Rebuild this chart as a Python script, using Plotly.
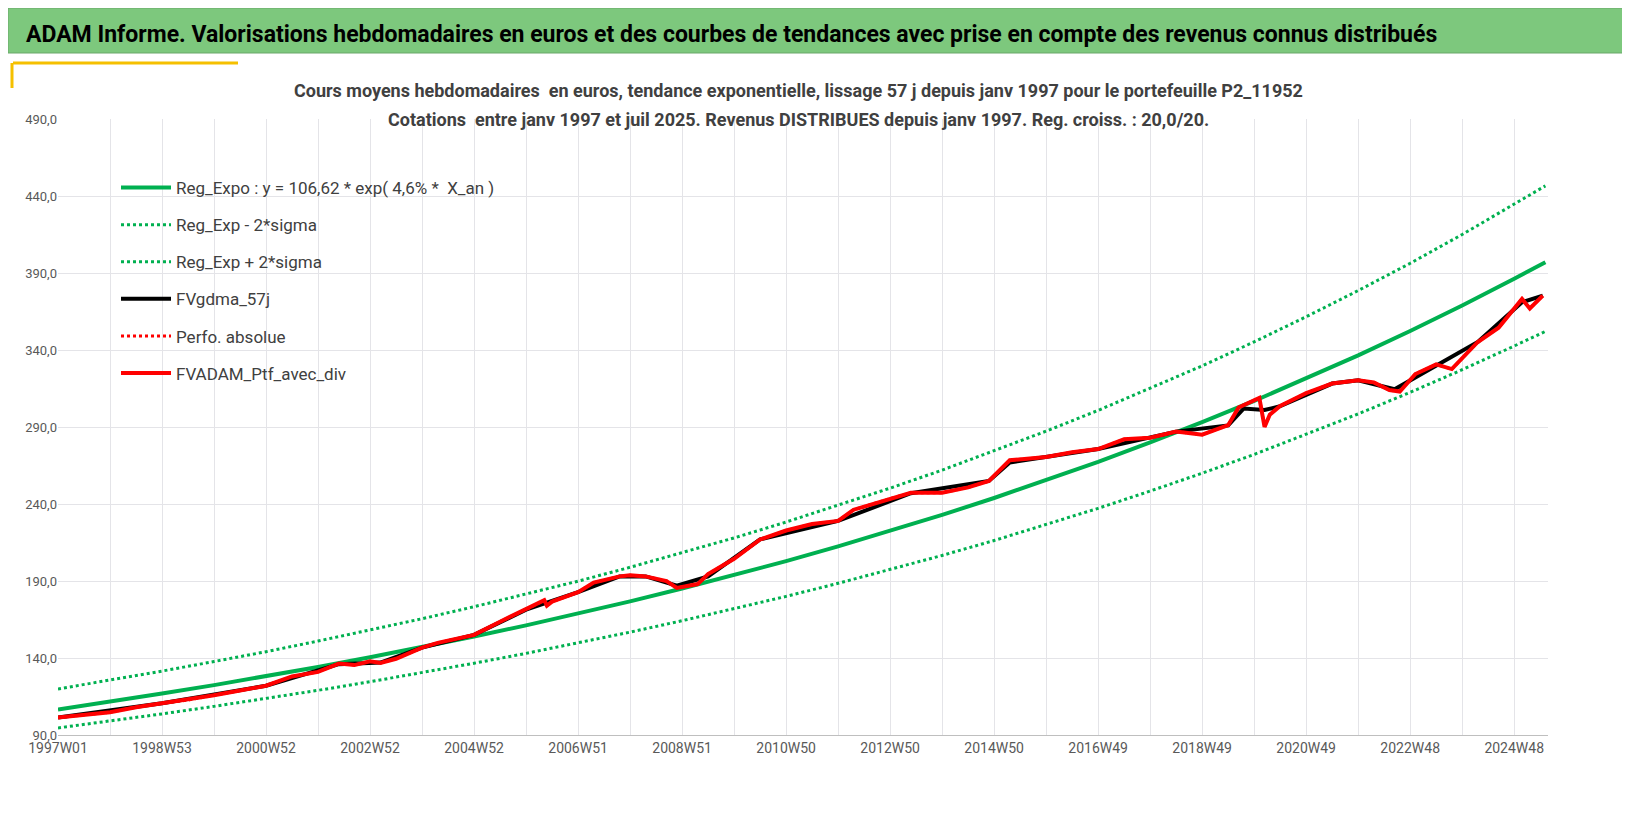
import plotly.graph_objects as go

# trend curves
trend_years = [1997 + i for i in range(29)] + [2025.6]
reg_expo = [106.6, 111.6, 116.9, 122.4, 128.1, 134.2, 140.5, 147.1, 154.0, 161.2,
            168.8, 176.8, 185.1, 193.8, 202.9, 212.5, 222.5, 232.9, 243.9, 255.4,
            267.4, 280.0, 293.1, 306.9, 321.4, 336.5, 352.3, 368.9, 386.3, 397.0]
reg_low = [94.6, 99.0, 103.7, 108.6, 113.6, 119.0, 124.6, 130.5, 136.6, 143.0,
           149.7, 156.8, 164.2, 171.9, 180.0, 188.5, 197.4, 206.6, 216.3, 226.5,
           237.2, 248.4, 260.0, 272.2, 285.1, 298.5, 312.5, 327.2, 342.6, 352.1]
reg_high = [119.9, 125.6, 131.5, 137.7, 144.1, 151.0, 158.1, 165.5, 173.3, 181.4,
            189.9, 198.9, 208.2, 218.0, 228.3, 239.1, 250.3, 262.0, 274.4, 287.3,
            300.8, 315.0, 329.7, 345.3, 361.6, 378.6, 396.3, 415.0, 434.6, 446.6]

# portfolio value with dividends
ptf_years = [1997.0, 1998.0, 1998.5, 1999.0, 1999.5, 2000.0, 2000.5, 2001.0, 2001.5, 2002.0,
             2002.4, 2002.7, 2003.0, 2003.2, 2003.5, 2004.0, 2004.3, 2005.0, 2005.5, 2006.0,
             2006.35, 2006.4, 2006.5, 2007.0, 2007.3, 2007.8, 2008.0, 2008.3, 2008.7, 2008.9,
             2009.3, 2009.5, 2010.0, 2010.5, 2011.0, 2011.5, 2012.0, 2012.3, 2013.0, 2013.4,
             2014.0, 2014.5, 2014.9, 2015.3, 2016.0, 2016.5, 2017.0, 2017.5, 2018.0, 2018.5,
             2019.0, 2019.5, 2019.7, 2020.1, 2020.2, 2020.3, 2020.5, 2021.0, 2021.5, 2022.0,
             2022.3, 2022.6, 2022.8, 2023.1, 2023.5, 2023.8, 2024.3, 2024.7, 2025.15, 2025.3,
             2025.55]
ptf_values = [101.3, 104.8, 108.0, 110.6, 112.7, 115.8, 118.9, 122.0, 128.0, 131.0,
              136.4, 135.4, 137.8, 136.8, 139.5, 146.7, 149.8, 155.0, 163.6, 171.4,
              177.5, 174.0, 176.6, 182.8, 189.0, 193.0, 193.7, 193.0, 190.0, 185.5,
              188.0, 194.5, 204.4, 217.0, 222.8, 227.0, 229.0, 236.3, 243.5, 247.3,
              247.3, 250.8, 255.0, 268.4, 270.5, 273.6, 275.7, 282.0, 283.0, 287.1,
              285.0, 291.2, 302.7, 308.9, 290.0, 298.0, 303.7, 312.0, 318.2, 320.3,
              319.0, 314.0, 313.0, 324.4, 330.7, 327.6, 345.2, 354.5, 373.2, 367.0,
              375.3]

# 57-day moving average (smoother, no covid spike)
mm_years = [1997.0, 1999.0, 2001.0, 2002.4, 2003.2, 2004.0, 2005.0, 2006.0, 2007.0, 2007.8,
            2008.3, 2008.9, 2009.5, 2010.5, 2012.0, 2013.4, 2014.9, 2015.3, 2017.0, 2018.5,
            2019.5, 2019.8, 2020.2, 2020.5, 2021.5, 2022.0, 2022.7, 2023.5, 2024.3, 2025.15,
            2025.55]
mm_values = [101.3, 110.6, 122.0, 136.0, 137.0, 146.7, 155.0, 171.4, 182.8, 193.0,
             193.0, 187.0, 193.0, 217.0, 229.0, 247.0, 255.0, 267.0, 275.7, 287.0,
             291.0, 302.0, 301.0, 303.5, 318.2, 320.3, 314.5, 330.0, 345.2, 371.0,
             375.3]

tick_years = [1997 + 2 * i for i in range(15)]
tick_labels = ["1997W01", "1998W53", "2000W52", "2002W52", "2004W52", "2006W51", "2008W51",
               "2010W50", "2012W50", "2014W50", "2016W49", "2018W49", "2020W49", "2022W48",
               "2024W48"]

GREEN = "#00B050"
FONT = "Liberation Sans Narrow, Arial Narrow, Roboto, sans-serif"

fig = go.Figure()
fig.add_trace(go.Scatter(x=trend_years, y=reg_expo, mode="lines", line=dict(color=GREEN, width=4),
                         name="Reg_Expo : y = 106,62 * exp( 4,6% *  X_an )", legendgroup="a"))
fig.add_trace(go.Scatter(x=trend_years, y=reg_low, mode="lines", line=dict(color=GREEN, width=3, dash="dot"),
                         name="Reg_Exp - 2*sigma", legendgroup="b"))
fig.add_trace(go.Scatter(x=trend_years, y=reg_high, mode="lines", line=dict(color=GREEN, width=3, dash="dot"),
                         name="Reg_Exp + 2*sigma", legendgroup="c"))
fig.add_trace(go.Scatter(x=mm_years, y=mm_values, mode="lines", line=dict(color="black", width=4),
                         name="FVgdma_57j", legendgroup="d"))
fig.add_trace(go.Scatter(x=ptf_years, y=ptf_values, mode="lines", line=dict(color="#FF0000", width=3, dash="dot"),
                         name="Perfo. absolue", legendgroup="e"))
fig.add_trace(go.Scatter(x=ptf_years, y=ptf_values, mode="lines", line=dict(color="#FF0000", width=4),
                         name="FVADAM_Ptf_avec_div", legendgroup="f"))

# banner and yellow accents (paper coords)
def px(x):
    return (x - 50) / 1490

def py(y):
    return (727 - y) / 616

shapes = [
    dict(type="rect", xref="paper", yref="paper", x0=px(0), x1=px(1630), y0=py(45), y1=py(0),
         fillcolor="#7DC87D", line=dict(color="#6aa86a", width=1), layer="below"),
    dict(type="line", xref="paper", yref="paper", x0=px(5), x1=px(230), y0=py(55), y1=py(55),
         line=dict(color="#F5C000", width=3)),
    dict(type="line", xref="paper", yref="paper", x0=px(4), x1=px(4), y0=py(55), y1=py(80),
         line=dict(color="#F5C000", width=3)),
]

annotations = [
    dict(text="<b>ADAM Informe. Valorisations hebdomadaires en euros et des courbes de tendances avec prise en compte des revenus connus distribués</b>",
         xref="paper", yref="paper", x=px(16), y=py(27), xanchor="left", yanchor="middle", showarrow=False,
         font=dict(family=FONT, size=23, color="black")),
    dict(text="<b>Cours moyens hebdomadaires  en euros, tendance exponentielle, lissage 57 j depuis janv 1997 pour le portefeuille P2_11952</b>",
         xref="paper", yref="paper", x=px(790), y=py(82), xanchor="center", yanchor="middle", showarrow=False,
         font=dict(family=FONT, size=18, color="#404040")),
    dict(text="<b>Cotations  entre janv 1997 et juil 2025. Revenus DISTRIBUES depuis janv 1997. Reg. croiss. : 20,0/20.</b>",
         xref="paper", yref="paper", x=px(790), y=py(111), xanchor="center", yanchor="middle", showarrow=False,
         font=dict(family=FONT, size=18, color="#404040")),
]

fig.update_layout(
    width=1630, height=815,
    margin=dict(l=50, r=90, t=111, b=88),
    paper_bgcolor="white", plot_bgcolor="white",
    font=dict(family=FONT, size=14, color="#595959"),
    shapes=shapes, annotations=annotations,
    showlegend=True,
    legend=dict(x=px(108), y=py(162), xanchor="left", yanchor="top", bgcolor="rgba(0,0,0,0)",
                font=dict(family=FONT, size=17, color="#404040"), tracegroupgap=12, itemwidth=50),
    xaxis=dict(range=[1997, 2025.65], tickvals=tick_years, ticktext=tick_labels, tickangle=0,
               showgrid=False, showline=True, linecolor="#bfbfbf",
               minor=dict(dtick=1, tick0=1997, showgrid=True, gridcolor="#e4e4e8"),
               tickfont=dict(size=14, color="#595959")),
    yaxis=dict(range=[90, 490], dtick=50, tick0=90, tickformat=".1f", separatethousands=False,
               showgrid=True, gridcolor="#e4e4e8", zeroline=False, ticklabelstandoff=0,
               tickfont=dict(size=13, color="#595959")),
    separators=", ",
)

fig.write_html("out.html")
